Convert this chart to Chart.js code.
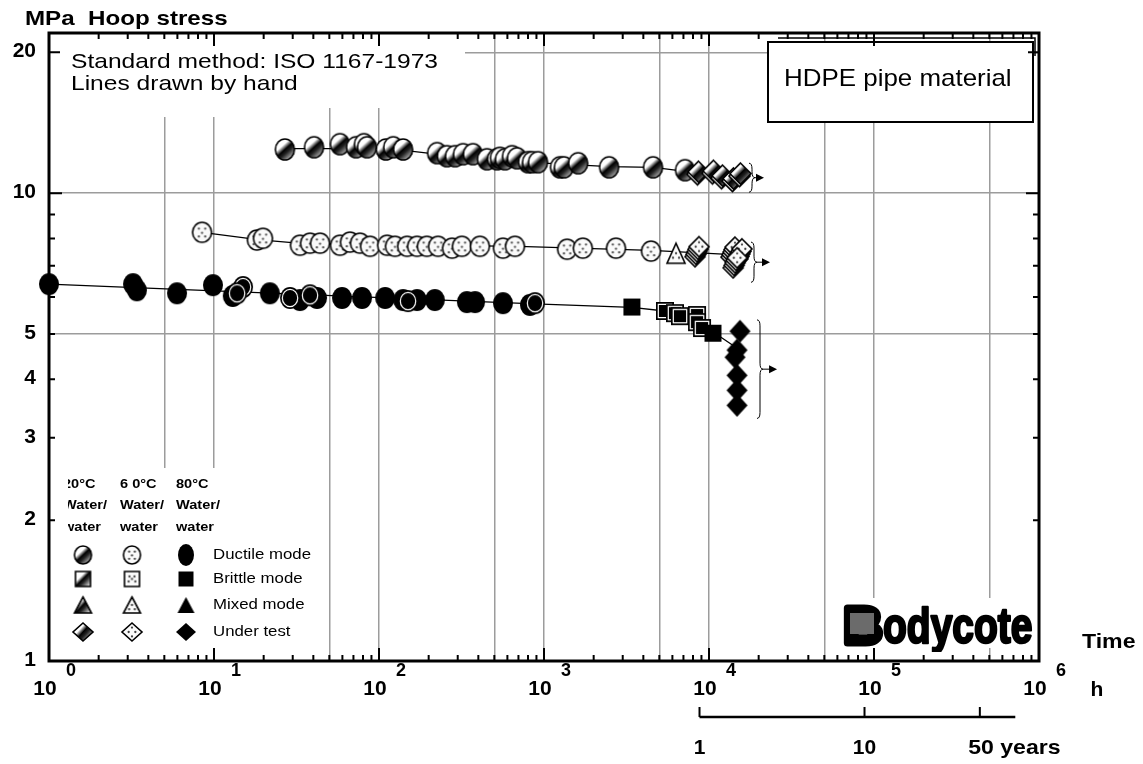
<!DOCTYPE html>
<html>
<head>
<meta charset="utf-8">
<script src="https://cdn.jsdelivr.net/npm/chart.js@4/dist/chart.umd.min.js"></script>
<style>
  body { margin: 0; background: #fff; }
  #wrap { width: 1143px; height: 764px; }
</style>
</head>
<body>
<div id="wrap"><canvas id="c" width="1143" height="764"></canvas></div>
<script>
// time to failure (h), hoop stress (MPa)
var ductile20 = [[26.9,12.4],[40.4,12.54],[58,12.73],[72.6,12.54],[81.1,12.73],[84.6,12.54],[110,12.4],[122,12.54],[140,12.4],
  [225,12.18],[258,12.0],[289,12.0],[323,12.12],[371,12.12],[451,11.82],[519,11.82],[541,11.9],[580,11.82],[640,12.0],[686,11.88],
  [800,11.65],[846,11.65],[920,11.65],[1250,11.36],[1320,11.36],[1610,11.59],[2480,11.36],[4580,11.36],[7160,11.2]];
var underTest20 = [[8570,11.03],[10570,11.08],[11990,10.82],[13970,10.67],[15400,10.93]];

var ductile60 = [[8.46,8.25],[18.2,7.94],[19.8,8.01],[33.2,7.74],[38.2,7.82],[43.9,7.82],[58,7.74],[66.7,7.86],[76.7,7.82],
  [88.2,7.7],[112,7.74],[125,7.7],[148,7.7],[170,7.7],[195,7.7],[228,7.7],[277,7.63],[318,7.7],[409,7.7],[564,7.63],[667,7.7],
  [1380,7.59],[1720,7.63],[2730,7.63],[4450,7.52]];
var mixed60 = [[6310,7.44]];
var underTest60 = [[8460,7.5],[13970,7.48],[15400,7.42],[14400,7.1]];

var ductile80 = [[1,6.39],[3.23,6.39],[3.41,6.2],[5.97,6.11],[9.86,6.36],[13,6.03],[21.8,6.11],[33.2,5.91],[42.1,5.97],
  [59.7,5.97],[78.9,5.97],[109,5.97],[140,5.91],[170,5.91],[218,5.91],[341,5.85],[382,5.85],[564,5.82],[822,5.77]];
var ductile80Ringed = [[15,6.3],[13.8,6.11],[28.9,5.97],[38.2,6.05],[150,5.88],[882,5.82]];
var brittle80 = [[3410,5.71],[10570,5.02]];
var brittle80Ringed = [[5410,5.6],[6220,5.54],[6670,5.46],[8460,5.49],[8460,5.3],[9070,5.15]];
var underTest80 = [[15400,5.07],[14790,4.62],[14380,4.46],[14790,4.08],[14790,3.79],[14790,3.52]];

// lines drawn by hand
var line20 = [[27,12.45],[115,12.45],[230,12.1],[1000,11.6],[2500,11.4],[4600,11.35],[8500,11.05]];
var line60 = [[8.46,8.25],[19,7.95],[35,7.8],[700,7.7],[4450,7.55],[13000,7.4]];
var line80 = [[1,6.39],[880,5.8],[3400,5.7],[5400,5.6],[10600,5.05],[14600,4.68]];

// brace: hours at brace, top MPa, bottom MPa, hours at arrow tip
var braces = [[17480,11.59,10.05,21550],[17970,7.86,6.45,23430],[19540,5.36,3.30,25850]];

var xGridValues = [5,10,50,100,500,1000,5000,1e4,5e4,1e5,5e5];
var yGridValues = [5,10,20];
var yTickLabels = [1,2,3,4,5,10,20];
var yTickMarks = [2,3,4,5,6,7,8,9,10,20];
var xTickExponents = [0,1,2,3,4,5,6];
var yearTicks = [1,10,50];
var yearAxisEnd = 82;
var HOURS_PER_YEAR = 8760;

var legendHeads = [['20°C','Water/','water'],['6 0°C','Water/','water'],['80°C','Water/','water']];
var legendModes = ['Ductile mode','Brittle mode','Mixed mode','Under test'];

var FONT = '"Liberation Sans", Arial, Helvetica, sans-serif';

function shapePath(g, shape, x, y, rx, ry) {
  g.beginPath();
  if (shape === 'circle') g.ellipse(x, y, rx, ry, 0, 0, Math.PI * 2);
  else if (shape === 'square') g.rect(x - rx, y - ry, rx * 2, ry * 2);
  else if (shape === 'triangle') { g.moveTo(x, y - ry); g.lineTo(x + rx, y + ry); g.lineTo(x - rx, y + ry); g.closePath(); }
  else { g.moveTo(x, y - ry); g.lineTo(x + rx, y); g.lineTo(x, y + ry); g.lineTo(x - rx, y); g.closePath(); }
}

var dotPattern = {
  circle: [[-3,-3.5],[3,-3.5],[0,0.5],[-3,4],[3,4]],
  square: [[-3,-3],[3,-3],[0,0],[-4,3],[4,3]],
  triangle: [[0,0],[-3,4.5],[3,4.5]],
  diamond: [[0,-4],[-3,0],[3,0],[0,4]]
};

function marker(shape, fill, rx, ry, stack) {
  stack = stack || 0;
  var pad = 3, off = 2.5;
  var c = document.createElement('canvas');
  c.width = Math.ceil(rx * 2 + pad * 2 + stack);
  c.height = Math.ceil(ry * 2 + pad * 2 + stack * off);
  var g = c.getContext('2d');
  var cx = pad + rx, cy = pad + ry;
  for (var i = stack; i >= 0; i--) {
    var x = cx + (stack - i), y = cy + i * off;
    g.lineWidth = 1.6;
    g.strokeStyle = '#000';
    shapePath(g, shape, x, y, rx, ry);
    if (i > 0) { g.fillStyle = '#fff'; g.fill(); g.stroke(); continue; }
    if (fill === 'shade') {
      var gr = g.createLinearGradient(x - rx, y - ry, x + rx, y + ry);
      gr.addColorStop(0, '#fff'); gr.addColorStop(0.34, '#fff'); gr.addColorStop(0.5, '#000');
      gr.addColorStop(0.62, '#222'); gr.addColorStop(0.85, '#aaa'); gr.addColorStop(1, '#fff');
      g.fillStyle = gr; g.fill(); g.stroke();
    } else if (fill === 'dot') {
      g.fillStyle = '#fafafa'; g.fill(); g.stroke();
      g.fillStyle = '#444';
      var s = rx / 9;
      dotPattern[shape].forEach(function (p) {
        g.beginPath(); g.arc(x + p[0] * s, y + p[1] * s, 1.15, 0, Math.PI * 2); g.fill();
      });
    } else {
      g.fillStyle = '#000'; g.fill();
      if (fill === 'ring') {
        shapePath(g, shape, x, y, rx - 2.3, ry - 2.3);
        g.strokeStyle = '#fff'; g.lineWidth = 1.2; g.stroke();
      }
    }
  }
  return c;
}

var M = {
  shadeCircle: marker('circle', 'shade', 9.5, 10.5),
  shadeDiamond: marker('diamond', 'shade', 10.5, 10.5, 1),
  dotCircle: marker('circle', 'dot', 9.5, 10),
  dotTriangle: marker('triangle', 'dot', 9, 10),
  dotDiamond: marker('diamond', 'dot', 10, 10, 4),
  blackCircle: marker('circle', 'black', 10, 11),
  blackCircleRing: marker('circle', 'ring', 10, 11),
  blackSquare: marker('square', 'black', 8.5, 8.5),
  blackSquareRing: marker('square', 'ring', 9, 9),
  blackDiamond: marker('diamond', 'black', 10.5, 11.5)
};

// legend symbols: rows = mode, columns = temperature
var legendFills = ['shade', 'dot', 'black'];
var legendShapes = [['circle', 8.5, 9], ['square', 7.5, 7.5], ['triangle', 8.5, 8], ['diamond', 10, 9]];

function pts(a) { return a.map(function (p) { return { x: p[0], y: p[1] }; }); }
function markerSet(label, data, style, order) {
  return { label: label, data: pts(data), pointStyle: style, pointRadius: 10, pointHoverRadius: 10,
    showLine: false, order: order, clip: false };
}
function lineSet(label, data) {
  return { label: label, data: pts(data), showLine: true, pointRadius: 0, borderColor: '#000',
    borderWidth: 1.3, order: 20, clip: false };
}

function txt(ctx, s, x, y, font, align, sx, base) {
  ctx.save();
  ctx.font = font;
  ctx.fillStyle = '#000';
  ctx.textAlign = align || 'left';
  ctx.textBaseline = base || 'alphabetic';
  ctx.translate(x, y);
  ctx.scale(sx || 1, 1);
  ctx.fillText(s, 0, 0);
  ctx.restore();
}

function brace(ctx, x, y1, y2, xe) {
  var w = 6, ym = (y1 + y2) / 2, h = w / 2;
  ctx.beginPath();
  ctx.moveTo(x, y1);
  ctx.quadraticCurveTo(x + h, y1, x + h, y1 + w);
  ctx.lineTo(x + h, ym - w);
  ctx.quadraticCurveTo(x + h, ym, x + w, ym);
  ctx.quadraticCurveTo(x + h, ym, x + h, ym + w);
  ctx.lineTo(x + h, y2 - w);
  ctx.quadraticCurveTo(x + h, y2, x, y2);
  ctx.moveTo(x + w, ym);
  ctx.lineTo(xe - 6, ym);
  ctx.stroke();
  ctx.beginPath();
  ctx.moveTo(xe, ym); ctx.lineTo(xe - 8, ym - 4); ctx.lineTo(xe - 8, ym + 4); ctx.closePath();
  ctx.fill();
}

var decor = {
  id: 'decor',
  beforeDatasetsDraw: function (chart) {
    var ctx = chart.ctx, ca = chart.chartArea, xs = chart.scales.x, ys = chart.scales.y;
    ctx.save();
    ctx.fillStyle = '#fff';
    ctx.fillRect(ca.left, ca.top, 416, 75);
    ctx.fillRect(ca.left, ca.top, 251, 84);
    ctx.fillRect(ca.left, 468, 273, ca.bottom - 468);
    ctx.fillRect(838, 598, ca.right - 838, 50);

    txt(ctx, 'Standard method: ISO 1167-1973', 71, 68, '21px ' + FONT, 'left', 1.17);
    txt(ctx, 'Lines drawn by hand', 71, 90, '21px ' + FONT, 'left', 1.17);

    // HDPE box
    ctx.strokeStyle = '#000';
    ctx.lineWidth = 1.5;
    ctx.beginPath(); ctx.moveTo(778, 38); ctx.lineTo(1035, 38); ctx.lineTo(1035, 56); ctx.stroke();
    ctx.fillStyle = '#fff';
    ctx.fillRect(768, 42, 265, 80);
    ctx.lineWidth = 2;
    ctx.strokeRect(768, 42, 265, 80);
    txt(ctx, 'HDPE pipe material', 784, 86, '24px ' + FONT, 'left', 1.08);

    // legend
    ctx.save();
    ctx.beginPath(); ctx.rect(68, 470, 200, 70); ctx.clip();
    var hx = [63, 120, 176], hy = [484, 505, 527];
    legendHeads.forEach(function (col, ci) {
      col.forEach(function (s, ri) { txt(ctx, s, hx[ci], hy[ri], 'bold 13px ' + FONT, 'left', 1.12, 'middle'); });
    });
    ctx.restore();
    var mx = [83, 132, 186], my = [555, 579, 605, 632];
    legendShapes.forEach(function (sh, ri) {
      legendFills.forEach(function (f, ci) {
        var ry = (f === 'black' && sh[0] === 'circle') ? 11 : sh[2];
        var rx = (f === 'black' && sh[0] === 'circle') ? 8 : sh[1];
        var c = marker(sh[0], f, rx, ry);
        ctx.drawImage(c, mx[ci] - c.width / 2, my[ri] - c.height / 2);
      });
      txt(ctx, legendModes[ri], 213, my[ri], '15px ' + FONT, 'left', 1.12, 'middle');
    });

    // logo
    ctx.save();
    ctx.beginPath(); ctx.rect(838, 596, ca.right - 838, 56); ctx.clip();
    ctx.filter = 'blur(0.7px)';
    ctx.fillStyle = '#000'; ctx.strokeStyle = '#000'; ctx.lineJoin = 'round';
    ctx.font = 'bold 50px ' + FONT;
    ctx.save(); ctx.translate(844, 643); ctx.scale(1.05, 1);
    ctx.lineWidth = 7; ctx.strokeText('B', 0, 0); ctx.fillText('B', 0, 0);
    ctx.restore();
    ctx.fillStyle = '#6b6b6b'; ctx.fillRect(850, 613, 24, 21);
    ctx.fillStyle = '#000';
    ctx.save(); ctx.translate(883, 643); ctx.scale(0.78, 1);
    ctx.lineWidth = 2.5; ctx.strokeText('odycote', 0, 0); ctx.fillText('odycote', 0, 0);
    ctx.restore();
    ctx.restore();

    // braces
    ctx.strokeStyle = '#000'; ctx.fillStyle = '#000'; ctx.lineWidth = 1;
    braces.forEach(function (b) {
      brace(ctx, xs.getPixelForValue(b[0]), ys.getPixelForValue(b[1]), ys.getPixelForValue(b[2]), xs.getPixelForValue(b[3]));
    });

    // frame and inward ticks
    ctx.strokeStyle = '#000';
    ctx.lineWidth = 3;
    ctx.strokeRect(ca.left, ca.top, ca.right - ca.left, ca.bottom - ca.top);
    ctx.lineWidth = 2;
    ctx.beginPath();
    for (var n = 0; n < 6; n++) {
      for (var k = 1; k <= 9; k++) {
        var v = k * Math.pow(10, n);
        if (v === 1) continue;
        var px = xs.getPixelForValue(v), len = k === 1 ? 13 : 6;
        ctx.moveTo(px, ca.bottom); ctx.lineTo(px, ca.bottom - len);
        ctx.moveTo(px, ca.top); ctx.lineTo(px, ca.top + len);
      }
    }
    yTickMarks.forEach(function (v) {
      var py = ys.getPixelForValue(v), len = v === 10 ? 13 : (v === 20 ? 11 : 6);
      ctx.moveTo(ca.left, py); ctx.lineTo(ca.left + len, py);
      ctx.moveTo(ca.right, py); ctx.lineTo(ca.right - len, py);
    });
    ctx.stroke();
    ctx.restore();
  },
  afterDraw: function (chart) {
    var ctx = chart.ctx, ca = chart.chartArea, xs = chart.scales.x, ys = chart.scales.y;
    ctx.save();
    txt(ctx, 'MPa  Hoop stress', 25, 25, 'bold 21px ' + FONT, 'left', 1.15);
    yTickLabels.forEach(function (v) {
      txt(ctx, String(v), 36, ys.getPixelForValue(v) - 1, 'bold 21px ' + FONT, 'right', 1, 'middle');
    });
    xTickExponents.forEach(function (e) {
      var px = xs.getPixelForValue(Math.pow(10, e));
      txt(ctx, '10', px - 4, 689, 'bold 21px ' + FONT, 'center', 1, 'middle');
      txt(ctx, String(e), px + 22, 671, 'bold 18px ' + FONT, 'center', 1, 'middle');
    });
    txt(ctx, 'h', 1097, 690, 'bold 21px ' + FONT, 'center', 1, 'middle');
    txt(ctx, 'Time', 1082, 642, 'bold 21px ' + FONT, 'left', 1.1, 'middle');

    // years axis
    var y0 = 717;
    var x1 = xs.getPixelForValue(yearTicks[0] * HOURS_PER_YEAR);
    var x2 = xs.getPixelForValue(yearAxisEnd * HOURS_PER_YEAR);
    ctx.strokeStyle = '#000';
    ctx.lineWidth = 2.5;
    ctx.beginPath(); ctx.moveTo(x1, y0); ctx.lineTo(x2, y0); ctx.stroke();
    ctx.lineWidth = 2;
    ctx.beginPath();
    yearTicks.forEach(function (yr) {
      var px = xs.getPixelForValue(yr * HOURS_PER_YEAR);
      ctx.moveTo(px, y0); ctx.lineTo(px, y0 - 10);
    });
    ctx.stroke();
    yearTicks.forEach(function (yr, i) {
      var px = xs.getPixelForValue(yr * HOURS_PER_YEAR);
      if (i < yearTicks.length - 1) {
        txt(ctx, String(yr), px, 748, 'bold 21px ' + FONT, 'center', 1, 'middle');
      } else {
        ctx.font = 'bold 21px ' + FONT;
        var w = ctx.measureText(String(yr)).width;
        txt(ctx, yr + ' years', px - w / 2, 748, 'bold 21px ' + FONT, 'left', 1.1, 'middle');
      }
    });
    ctx.restore();
  }
};

new Chart(document.getElementById('c'), {
  type: 'scatter',
  data: {
    datasets: [
      markerSet('80°C brittle', brittle80, M.blackSquare, 1),
      markerSet('80°C brittle (overlaid)', brittle80Ringed, M.blackSquareRing, 2),
      markerSet('80°C under test', underTest80, M.blackDiamond, 3),
      markerSet('80°C ductile (overlaid)', ductile80Ringed, M.blackCircleRing, 4),
      markerSet('80°C ductile', ductile80, M.blackCircle, 5),
      markerSet('60°C under test', underTest60, M.dotDiamond, 6),
      markerSet('60°C mixed', mixed60, M.dotTriangle, 7),
      markerSet('60°C ductile', ductile60, M.dotCircle, 8),
      markerSet('20°C under test', underTest20, M.shadeDiamond, 9),
      markerSet('20°C ductile', ductile20, M.shadeCircle, 10),
      lineSet('20°C line', line20),
      lineSet('60°C line', line60),
      lineSet('80°C line', line80)
    ]
  },
  options: {
    responsive: false,
    animation: false,
    events: [],
    layout: { padding: { left: 49, top: 33, right: 104, bottom: 103 } },
    plugins: { legend: { display: false }, tooltip: { enabled: false } },
    scales: {
      x: {
        type: 'logarithmic', min: 1, max: 1e6,
        afterBuildTicks: function (s) { s.ticks = xGridValues.map(function (v) { return { value: v }; }); },
        ticks: { display: false },
        grid: { color: '#9c9c9c', lineWidth: 1.5, drawTicks: false },
        border: { display: false }
      },
      y: {
        type: 'logarithmic', min: 1, max: 22,
        afterBuildTicks: function (s) { s.ticks = yGridValues.map(function (v) { return { value: v }; }); },
        ticks: { display: false },
        grid: { color: '#9c9c9c', lineWidth: 1.5, drawTicks: false },
        border: { display: false }
      }
    }
  },
  plugins: [decor]
});
</script>
</body>
</html>
